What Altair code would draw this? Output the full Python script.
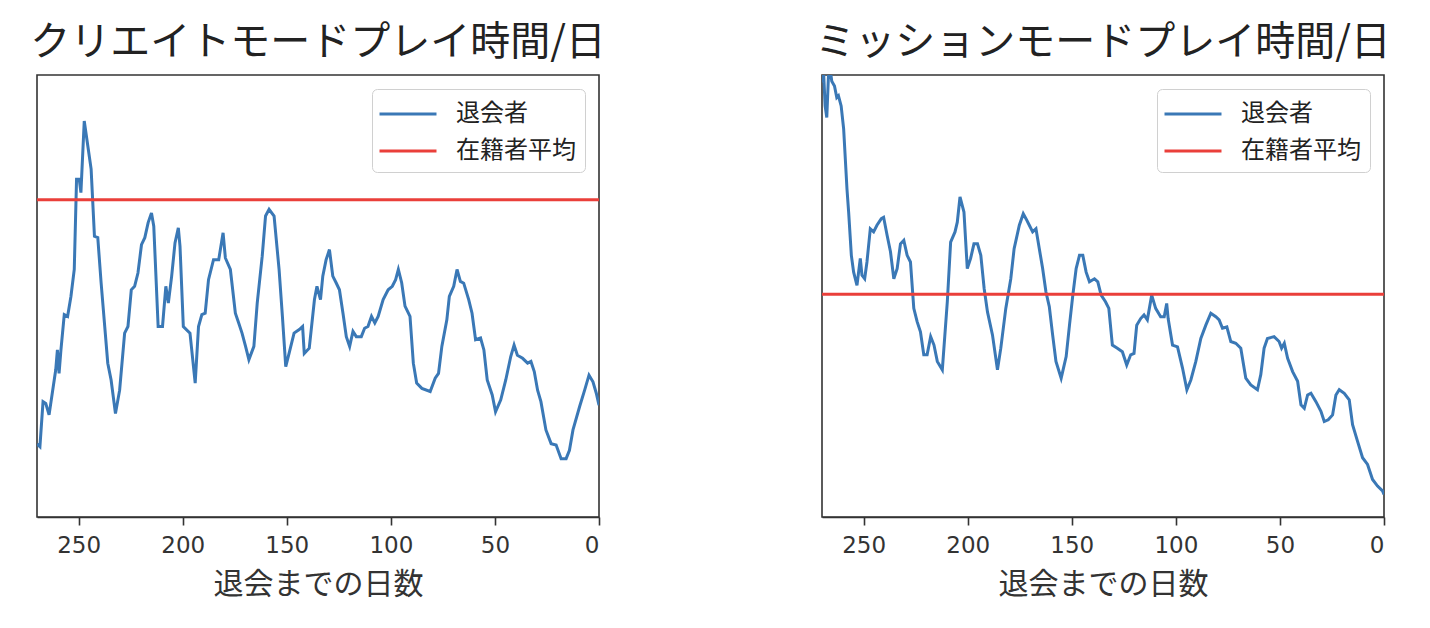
import altair as alt
import pandas as pd

# ---- data ----
create_days = [270.0, 268.6, 267.1, 265.8, 264.2, 261.0, 260.2, 259.4, 258.5, 256.9, 255.3, 253.7, 252.1, 251.0,
               249.7, 248.9, 247.3, 245.6, 244.0, 242.4, 240.8, 239.2, 236.0, 234.4, 232.3, 230.3, 227.9, 226.3,
               224.7, 223.1, 221.5, 219.8, 218.2, 216.6, 215.0, 213.9, 211.8, 209.7, 208.1, 206.9, 205.3, 203.7,
               202.1, 201.3, 199.7, 196.5, 194.0, 192.4, 190.8, 189.2, 187.6, 185.2, 182.7, 180.6, 179.5, 177.1,
               174.7, 173.1, 171.5, 169.8, 168.2, 165.8, 164.2, 161.8, 160.2, 158.5, 156.1, 153.7, 152.1, 150.5,
               148.9, 146.5, 144.0, 142.4, 141.6, 139.2, 136.7, 135.5, 133.8, 132.7, 131.1, 129.5, 127.9, 126.3,
               124.7, 123.0, 121.4, 119.8, 118.2, 116.6, 114.2, 112.6, 111.0, 109.3, 107.7, 106.1, 103.7, 101.3,
               99.3, 97.7, 96.4, 94.8, 93.2, 90.8, 89.2, 87.6, 85.1, 81.1, 78.7, 77.1, 75.5, 73.1, 71.9, 69.8,
               68.2, 66.6, 65.0, 62.6, 61.0, 59.3, 56.9, 55.3, 53.7, 51.3, 49.7, 47.2, 44.8, 42.4, 40.8, 39.2,
               36.7, 34.3, 32.7, 31.1, 29.5, 27.9, 25.5, 23.0, 20.6, 18.2, 15.8, 14.2, 12.5, 9.3, 6.9, 4.8,
               2.9, 1.3, 0.0]
create_vals = [16.5, 15.9, 26.1, 25.7, 23.1, 33.3, 37.8, 32.5, 37.8, 45.8, 45.4, 49.9, 56.0, 76.4,
               76.4, 73.4, 89.6, 84.0, 78.7, 63.5, 63.2, 53.0, 34.8, 31.0, 23.4, 28.7, 41.6, 43.1,
               51.4, 52.2, 55.2, 61.6, 63.2, 66.6, 68.8, 65.8, 43.1, 43.1, 52.2, 48.4, 54.5, 62.0,
               65.4, 61.3, 43.1, 41.6, 30.3, 43.1, 45.8, 46.1, 53.7, 58.2, 58.2, 64.3, 58.6, 56.0,
               46.1, 43.9, 41.6, 38.6, 35.6, 38.6, 48.4, 59.0, 68.1, 69.6, 68.1, 56.0, 45.4, 34.0,
               37.0, 41.6, 42.4, 43.1, 37.0, 38.2, 49.2, 52.2, 49.2, 54.5, 58.2, 60.5, 54.5, 53.0,
               51.4, 46.1, 40.8, 38.6, 42.0, 40.8, 40.8, 42.7, 43.1, 45.4, 43.9, 45.4, 49.2, 51.4,
               52.2, 53.7, 56.0, 53.0, 47.7, 45.4, 34.8, 30.3, 29.1, 28.4, 31.4, 32.5, 38.6, 44.6, 49.9, 52.2,
               56.0, 53.3, 52.9, 49.2, 46.1, 40.1, 40.5, 37.8, 31.0, 27.6, 23.8, 26.5, 31.0, 36.3, 38.9, 36.6,
               35.9, 34.8, 35.2, 32.9, 28.7, 26.1, 19.7, 16.6, 16.3, 13.2, 13.2, 15.1, 19.7, 25.0, 28.7, 32.1,
               30.6, 28.0, 25.3]

mission_days = [269.8, 269.3, 268.5, 267.7, 266.9, 266.1, 265.3, 264.0, 262.9, 262.1, 260.8, 259.6, 258.0,
                257.2, 255.9, 254.8, 253.2, 251.6, 250.8, 249.5, 248.4, 246.8, 245.2, 243.6, 241.5, 240.4,
                238.7, 237.1, 235.5, 233.9, 232.3, 230.7, 229.1, 227.5, 225.9, 224.3, 222.7, 221.1, 219.5,
                217.8, 216.2, 214.6, 212.2, 209.8, 208.2, 206.1, 205.0, 203.7, 201.8, 200.2, 198.6, 197.0,
                195.3, 193.7, 192.1, 190.5, 188.1, 185.7, 184.1, 181.7, 179.3, 177.7, 175.2, 173.3, 172.0,
                170.4, 168.8, 167.2, 165.6, 164.0, 162.4, 160.8, 159.2, 157.6, 155.1, 152.7, 151.1, 149.5,
                147.9, 146.3, 144.7, 143.1, 141.5, 139.1, 137.5, 135.9, 133.8, 132.2, 130.5, 128.1, 125.7,
                123.6, 121.7, 120.1, 118.8, 116.9, 115.3, 113.7, 111.6, 109.7, 107.3, 105.6, 104.4, 103.7,
                101.6, 99.2, 96.8, 94.7, 92.8, 90.4, 88.0, 85.6, 83.2, 80.8, 79.2, 77.6, 75.5, 73.6, 71.2,
                68.8, 66.4, 64.0, 60.8, 59.2, 57.6, 56.0, 52.8, 50.4, 49.2, 47.9, 46.3, 43.9, 41.5, 39.9,
                38.3, 36.7, 35.1, 32.7, 30.3, 28.7, 26.8, 24.7, 23.1, 21.5, 19.1, 16.7, 15.1, 12.7, 10.3,
                7.9, 5.5, 3.1, 0.7, 0.0]
mission_vals = [98.3, 101.3, 93.0, 90.4, 99.8, 101.3, 98.6, 97.5, 94.9, 95.3, 93.0, 87.8, 74.2,
                69.0, 59.2, 55.4, 52.4, 58.5, 54.7, 53.9, 57.7, 65.2, 64.5, 66.0, 67.5, 67.8,
                63.7, 60.0, 53.9, 56.2, 61.8, 62.6, 59.2, 57.7, 47.2, 44.2, 41.9, 36.7, 36.7,
                40.8, 38.9, 35.2, 33.3, 48.7, 62.2, 64.5, 66.7, 72.4, 69.0, 56.2, 58.5, 61.8,
                61.8, 59.2, 51.7, 46.4, 41.2, 33.3, 38.2, 47.2, 53.9, 60.7, 66.0, 68.6, 67.5,
                66.0, 64.5, 65.2, 60.7, 56.2, 50.9, 47.6, 41.2, 35.2, 31.4, 36.3, 43.4, 50.2,
                56.2, 59.2, 59.2, 55.4, 53.2, 53.9, 53.2, 50.2, 48.7, 47.2, 38.9, 38.2, 37.4,
                34.4, 36.7, 37.0, 43.4, 44.9, 45.7, 44.6, 50.2, 47.2, 45.3, 45.3, 48.3, 44.9,
                38.9, 38.5, 33.7, 28.8, 31.0, 35.2, 40.4, 43.4, 46.1, 45.3, 44.6, 42.7, 43.0, 39.7, 39.3,
                38.2, 31.4, 29.9, 28.8, 32.2, 38.2, 40.4, 40.8, 39.7, 38.2, 39.3, 35.9, 32.9, 30.7, 25.4,
                24.6, 27.6, 28.0, 26.1, 23.9, 21.6, 22.0, 23.1, 27.6, 28.8, 28.0, 26.5, 20.9, 17.1, 13.4,
                11.9, 8.5, 7.0, 5.9, 5.1]

create_avg = 71.8
mission_avg = 50.4

titles = ["クリエイトモードプレイ時間/日", "ミッションモードプレイ時間/日"]
series_names = ["退会者", "在籍者平均"]
x_title = "退会までの日数"
x_ticks = [250, 200, 150, 100, 50, 0]

BLUE = "#3a78b6"
RED = "#ea3f3a"
JP = "Noto Sans CJK JP"


def panel(days, vals, avg, title):
    df = pd.DataFrame({"day": days, "val": vals, "series": series_names[0]})
    avg_df = pd.DataFrame({"val": [avg], "series": [series_names[1]]})
    color = alt.Color(
        "series:N",
        scale=alt.Scale(domain=series_names, range=[BLUE, RED]),
        legend=alt.Legend(
            title=None, orient="top-right", offset=14,
            fillColor="white", strokeColor="#d0d0d0", cornerRadius=5,
            padding=9, symbolType="M-2,0H2", symbolStrokeWidth=3,
            symbolSize=812, symbolOffset=11, labelFont=JP, labelFontSize=24, labelColor="#222",
            labelOffset=32, rowPadding=9,
        ),
    )
    x = alt.X(
        "day:Q",
        scale=alt.Scale(domain=[270, 0], nice=False, zero=False),
        axis=alt.Axis(values=x_ticks, title=x_title, grid=False, format="d"),
    )
    y = alt.Y("val:Q", scale=alt.Scale(domain=[0, 100], nice=False, zero=False), axis=None)
    line = alt.Chart(df).mark_line(strokeWidth=3, clip=True).encode(x=x, y=y, color=color)
    rule = alt.Chart(avg_df).mark_rule(strokeWidth=3).encode(y=alt.Y("val:Q"), color=color)
    return alt.layer(line, rule).properties(
        width=562, height=442,
        title=alt.TitleParams(title, fontSize=40, font=JP, fontWeight="normal", color="#222", offset=12),
    )


left = panel(create_days, create_vals, create_avg, titles[0])
right = panel(mission_days, mission_vals, mission_avg, titles[1])

chart = (
    alt.hconcat(left, right, spacing=223, bounds="flush")
    .resolve_scale(color="independent")
    .resolve_legend(color="independent")
    .properties(padding={"left": 21, "top": 14, "right": 5, "bottom": 5}, background="white")
    .configure_view(stroke="#333", strokeWidth=1.6)
    .configure_axis(
        domainColor="#333", domainWidth=1.6, tickColor="#333", tickWidth=1.6, tickSize=8,
        labelFont="DejaVu Sans", labelFontSize=23, labelColor="#333", labelPadding=9,
        titleFont=JP, titleFontSize=30, titleFontWeight="normal", titleColor="#333", titlePadding=12,
    )
)

chart.save("out.html", embed_options={"renderer": "svg", "actions": False})
